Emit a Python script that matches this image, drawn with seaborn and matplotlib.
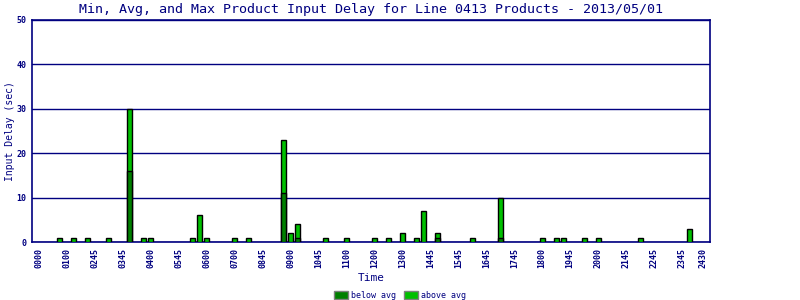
import matplotlib
matplotlib.use("Agg")
import matplotlib.pyplot as plt
import matplotlib.patches as mpatches
import seaborn as sns
import pandas as pd

# ---- data ----
n_slots = 96
max_slots = [3, 5, 7, 10, 13, 15, 16, 22, 23, 24, 28, 30, 35, 36, 37, 41, 44, 48,
             50, 52, 54, 55, 57, 62, 66, 72, 74, 75, 78, 80, 86, 93]
max_vals = [1, 1, 1, 1, 30, 1, 1, 1, 6, 1, 1, 1, 23, 2, 4, 1, 1, 1,
            1, 2, 1, 7, 2, 1, 10, 1, 1, 1, 1, 1, 1, 3]
below_slots = [13, 35, 37, 57, 66]
below_vals = [16, 11, 1, 1, 1]
tick_slots = [0, 4, 8, 12, 16, 20, 24, 28, 32, 36, 40, 44, 48, 52, 56, 60, 64, 68,
              72, 76, 80, 84, 88, 92, 95]
tick_labels = ["0000", "0100", "0245", "0345", "0400", "0545", "0600", "0700", "0845",
               "0900", "1045", "1100", "1200", "1300", "1445", "1545", "1645", "1745",
               "1800", "1945", "2000", "2145", "2245", "2345", "2430"]
title = "Min, Avg, and Max Product Input Delay for Line 0413 Products - 2013/05/01"

NAVY = "#000080"
DARK = "#008000"
LIGHT = "#00c000"

sns.set_style("white")
plt.rcParams["font.family"] = ["DejaVu Sans Mono"]

fig = plt.figure(figsize=(8, 3), dpi=100)
ax = fig.add_axes([32 / 800, 1 - 242 / 300, (710 - 32) / 800, (242 - 20) / 300])

order = [str(i) for i in range(n_slots)]
df_max = pd.DataFrame({"slot": [str(s) for s in max_slots], "val": max_vals})
df_below = pd.DataFrame({"slot": [str(s) for s in below_slots], "val": below_vals})

sns.barplot(data=df_max, x="slot", y="val", order=order, color=LIGHT, saturation=1,
            width=0.72, edgecolor="black", linewidth=1.0, ax=ax, zorder=3)
sns.barplot(data=df_below, x="slot", y="val", order=order, color=DARK, saturation=1,
            width=0.72, edgecolor="black", linewidth=1.0, ax=ax, zorder=4)

ax.set_xlim(-1, 96)
ax.set_ylim(0, 50)
ax.set_yticks([0, 10, 20, 30, 40, 50])
ax.set_xticks(tick_slots)
ax.set_xticklabels(tick_labels, rotation=90, fontsize=6, color=NAVY, fontweight="bold")
for lab in ax.get_yticklabels():
    lab.set_fontsize(6)
    lab.set_color(NAVY)
    lab.set_fontweight("bold")
ax.tick_params(axis="both", length=0)
ax.tick_params(axis="x", pad=4)
ax.tick_params(axis="y", pad=4)

ax.grid(axis="y", color=NAVY, linewidth=1)
ax.set_axisbelow(True)
for sp in ax.spines.values():
    sp.set_color(NAVY)
    sp.set_linewidth(1.2)
    sp.set_visible(True)

ax.set_xlabel("Time", fontsize=8, color=NAVY, labelpad=4)
ax.set_ylabel("Input Delay (sec)", fontsize=7, color=NAVY)
ax.yaxis.set_label_coords(-17 / 678, 0.5)
ax.set_title(title, fontsize=9.6, color=NAVY, pad=5)

handles = [mpatches.Patch(facecolor=DARK, edgecolor="gray", linewidth=1, label="below avg"),
           mpatches.Patch(facecolor=LIGHT, edgecolor="gray", linewidth=1, label="above avg")]
leg = fig.legend(handles=handles, loc="lower center", bbox_to_anchor=(0.5, -0.025), ncol=2,
                 frameon=False, fontsize=6, handlelength=1.7, handleheight=1.0,
                 handletextpad=0.3, columnspacing=1.0)
for t in leg.get_texts():
    t.set_color(NAVY)

fig.savefig("out.png", dpi=100)
